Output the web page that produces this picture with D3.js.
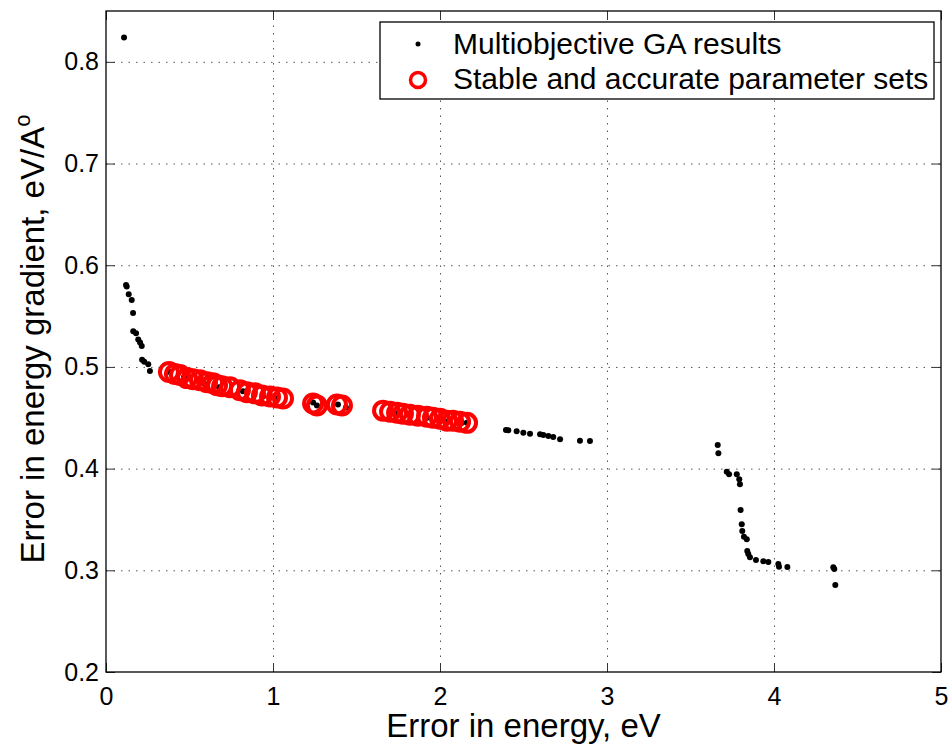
<!DOCTYPE html>
<html>
<body>
    <style>
        body, html {
            margin: 0;
            padding: 0;
            background: #fff;
        }
        svg text {
            font-family: "Liberation Sans", Arial, sans-serif;
        }
    </style>

    <svg width="951" height="744"></svg>

    <script src="https://d3js.org/d3.v7.min.js"></script>

    <script>
        // GA results, error in energy (eV) vs error in gradient (eV/A)
        var gaEnergy = [
            0.108, 0.120, 0.124, 0.136, 0.154, 0.162, 0.163, 0.180, 0.193, 0.204,
            0.214, 0.216, 0.229, 0.253, 0.263,
            0.383, 0.467, 0.587, 0.677, 0.820, 0.940, 1.024, 1.240, 1.263, 1.389,
            1.437, 1.743, 1.922, 2.042, 2.132, 2.162,
            2.395, 2.409, 2.459, 2.499, 2.539, 2.599, 2.619, 2.649, 2.678, 2.719,
            2.838, 2.898,
            3.663, 3.667, 3.717, 3.731, 3.777, 3.792, 3.796, 3.800, 3.807, 3.810,
            3.820, 3.837, 3.840, 3.846, 3.856, 3.892, 3.936, 3.966, 4.026, 4.030,
            4.080, 4.355, 4.361, 4.367
        ];
        var gaGradient = [
            0.824, 0.5805, 0.579, 0.5714, 0.5658, 0.553, 0.535, 0.533, 0.527, 0.524,
            0.5205, 0.507, 0.505, 0.5026, 0.496,
            0.495, 0.490, 0.484, 0.480, 0.476, 0.471, 0.469, 0.465, 0.462, 0.463,
            0.460, 0.454, 0.450, 0.446, 0.445, 0.445,
            0.438, 0.4377, 0.4367, 0.4353, 0.4343, 0.4337, 0.433, 0.432, 0.431, 0.4288,
            0.4274, 0.4271,
            0.4232, 0.415, 0.397, 0.3944, 0.3944, 0.3895, 0.3846, 0.3593, 0.3452, 0.3386,
            0.333, 0.3305, 0.319, 0.316, 0.3128, 0.3101, 0.3088, 0.3082, 0.3062, 0.3035,
            0.3032, 0.3029, 0.3013, 0.2855
        ];

        // stable and accurate subset
        var stableEnergy = [
            0.377, 0.413, 0.443, 0.485, 0.521, 0.563, 0.605, 0.641, 0.665, 0.695,
            0.743, 0.802, 0.844, 0.892, 0.934, 0.982, 1.024, 1.060,
            1.240, 1.263, 1.383, 1.413,
            1.659, 1.701, 1.743, 1.778, 1.820, 1.868, 1.922, 1.958, 2.000, 2.042,
            2.078, 2.120, 2.162
        ];
        var stableGradient = [
            0.495, 0.493, 0.492, 0.489, 0.488, 0.487, 0.485, 0.484, 0.482, 0.481,
            0.480, 0.477, 0.475, 0.474, 0.472, 0.471, 0.470, 0.469,
            0.464, 0.462, 0.463, 0.462,
            0.457, 0.456, 0.455, 0.454, 0.453, 0.452, 0.451, 0.450, 0.449, 0.447,
            0.447, 0.446, 0.445
        ];

        var xTicks = [0, 1, 2, 3, 4, 5];
        var yTicks = [0.2, 0.3, 0.4, 0.5, 0.6, 0.7, 0.8];
        var legendLabels = ["Multiobjective GA results", "Stable and accurate parameter sets"];

        var mLeft = 106, mRight = 941, mTop = 11, mBottom = 672;
        var w = mRight - mLeft, h = mBottom - mTop;

        var svg = d3.select("svg");
        var g = svg.append("g").attr("transform", "translate(" + mLeft + "," + mTop + ")");

        var x = d3.scaleLinear().domain([0, 5]).range([0, w]);
        var y = d3.scaleLinear().domain([0.2, 0.85]).range([h, 0]);

        // GRID
        function styleGrid(a) {
            a.select(".domain").remove();
            a.selectAll("line").attr("stroke", "#555").attr("stroke-dasharray", "1.5,6");
        }
        g.append("g")
            .attr("transform", "translate(0," + h + ")")
            .call(d3.axisBottom(x).tickValues(xTicks.slice(1, -1)).tickSize(-h).tickFormat(""))
            .call(styleGrid);
        g.append("g")
            .call(d3.axisLeft(y).tickValues(yTicks.slice(1)).tickSize(-w).tickFormat(""))
            .call(styleGrid);

        // AXES
        function styleAxis(a) {
            a.select(".domain").remove();
            a.selectAll("line").attr("stroke", "#333");
            a.selectAll("text").attr("font-size", 25).attr("fill", "#000")
                .style("font-family", "'Liberation Sans', Arial, sans-serif");
        }
        g.append("g")
            .attr("transform", "translate(0," + h + ")")
            .call(d3.axisBottom(x).tickValues(xTicks).tickSize(-9).tickPadding(15).tickFormat(d3.format("d")))
            .call(styleAxis);
        g.append("g")
            .call(d3.axisTop(x).tickValues(xTicks).tickSize(-9).tickFormat(""))
            .call(styleAxis);
        g.append("g")
            .call(d3.axisLeft(y).tickValues(yTicks).tickSize(-9).tickPadding(7).tickFormat(d3.format(".1f")))
            .call(styleAxis);
        g.append("g")
            .attr("transform", "translate(" + w + ",0)")
            .call(d3.axisRight(y).tickValues(yTicks).tickSize(-9).tickFormat(""))
            .call(styleAxis);

        g.append("rect")
            .attr("width", w).attr("height", h)
            .attr("fill", "none").attr("stroke", "#000").attr("stroke-width", 1.3);

        // POINTS
        g.selectAll(".ga").data(d3.range(gaEnergy.length)).enter().append("circle")
            .attr("class", "ga")
            .attr("cx", function (i) { return x(gaEnergy[i]); })
            .attr("cy", function (i) { return y(gaGradient[i]); })
            .attr("r", 3)
            .attr("fill", "#000");

        g.selectAll(".stable").data(d3.range(stableEnergy.length)).enter().append("circle")
            .attr("class", "stable")
            .attr("cx", function (i) { return x(stableEnergy[i]); })
            .attr("cy", function (i) { return y(stableGradient[i]); })
            .attr("r", 9)
            .attr("fill", "none")
            .attr("stroke", "#f00")
            .attr("stroke-width", 4);

        // LEGEND
        var lg = svg.append("g");
        lg.append("rect")
            .attr("x", 380).attr("y", 22).attr("width", 554).attr("height", 77)
            .attr("fill", "#fff").attr("stroke", "#000").attr("stroke-width", 1.3);
        lg.append("circle").attr("cx", 418).attr("cy", 44).attr("r", 2.5).attr("fill", "#000");
        lg.append("circle").attr("cx", 418).attr("cy", 80).attr("r", 7.5)
            .attr("fill", "none").attr("stroke", "#f00").attr("stroke-width", 3.5);
        lg.selectAll("text").data(legendLabels).enter().append("text")
            .attr("x", 453)
            .attr("y", function (d, i) { return 54 + i * 35; })
            .attr("font-size", 30)
            .text(function (d) { return d; });

        // TITLES
        svg.append("text")
            .attr("x", (mLeft + mRight) / 2).attr("y", 737)
            .attr("text-anchor", "middle").attr("font-size", 33)
            .text("Error in energy, eV");

        var yt = svg.append("text")
            .attr("transform", "translate(44,339) rotate(-90)")
            .attr("text-anchor", "middle").attr("font-size", 33);
        yt.append("tspan").text("Error in energy gradient, eV/A");
        yt.append("tspan").attr("font-size", 22).attr("dy", -14).text("o");
    </script>
</body>
</html>
